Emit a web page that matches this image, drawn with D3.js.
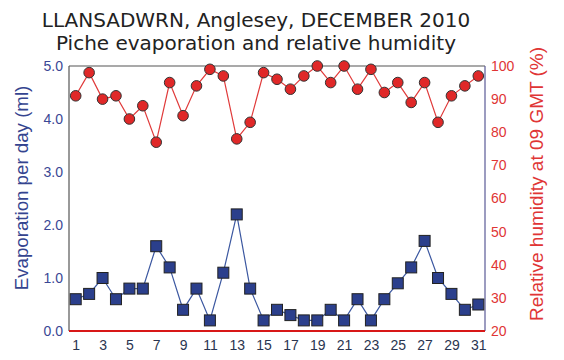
<!DOCTYPE html>
<html>
<head>
<meta charset="utf-8">
<script src="https://cdn.jsdelivr.net/npm/d3@7"></script>
<style>
  body { margin: 0; background: #fff; }
  svg { display: block; }
</style>
</head>
<body>
<svg width="564" height="360"></svg>
<script>

const days = d3.range(1, 32);
const evaporation = [0.6, 0.7, 1.0, 0.6, 0.8, 0.8, 1.6, 1.2, 0.4, 0.8, 0.2, 1.1, 2.2, 0.8, 0.2, 0.4,
    0.3, 0.2, 0.2, 0.4, 0.2, 0.6, 0.2, 0.6, 0.9, 1.2, 1.7, 1.0, 0.7, 0.4, 0.5];
const humidity = [91, 98, 90, 91, 84, 88, 77, 95, 85, 94, 99, 97, 78, 83, 98, 96,
    93, 97, 100, 95, 100, 93, 99, 92, 95, 89, 95, 83, 91, 94, 97];
const xTicks = [1, 3, 5, 7, 9, 11, 13, 15, 17, 19, 21, 23, 25, 27, 29, 31];
const leftTicks = [0, 1, 2, 3, 4, 5];
const rightTicks = [20, 30, 40, 50, 60, 70, 80, 90, 100];

const svg = d3.select('svg');

const plotL = 69, plotR = 485, plotT = 66, plotB = 331;

const x = d3.scaleLinear().domain([0.5, 31.5]).range([plotL, plotR]);
const yEvap = d3.scaleLinear().domain([0, 5]).range([plotB, plotT]);
const yHum = d3.scaleLinear().domain([20, 100]).range([plotB, plotT]);

// titles
svg.append('text')
    .attr('x', 256).attr('y', 27)
    .attr('text-anchor', 'middle')
    .attr('font-family', 'DejaVu Sans')
    .attr('font-size', 20)
    .attr('fill', '#222')
    .text('LLANSADWRN, Anglesey, DECEMBER 2010');
svg.append('text')
    .attr('x', 256).attr('y', 50)
    .attr('text-anchor', 'middle')
    .attr('font-family', 'DejaVu Sans')
    .attr('font-size', 20)
    .attr('fill', '#222')
    .text('Piche evaporation and relative humidity');

// frame
svg.append('line').attr('x1', plotL).attr('x2', plotR).attr('y1', plotT).attr('y2', plotT)
    .attr('stroke', '#555').attr('stroke-width', 1.2);
svg.append('line').attr('x1', plotL).attr('x2', plotL).attr('y1', plotT).attr('y2', plotB)
    .attr('stroke', '#555').attr('stroke-width', 1.2);
svg.append('line').attr('x1', plotR).attr('x2', plotR).attr('y1', plotT).attr('y2', plotB)
    .attr('stroke', '#5a5a96').attr('stroke-width', 1.2);

// axes (labels only, no ticks)
const axisLeft = svg.append('g')
    .attr('transform', `translate(${plotL},0)`)
    .call(d3.axisLeft(yEvap).tickValues(leftTicks).tickFormat(d3.format('.1f')).tickSize(0).tickPadding(6));
axisLeft.select('.domain').remove();
axisLeft.selectAll('text')
    .attr('font-family', 'Liberation Sans').attr('font-size', 14).attr('fill', '#3a4795');

const axisRight = svg.append('g')
    .attr('transform', `translate(${plotR},0)`)
    .call(d3.axisRight(yHum).tickValues(rightTicks).tickSize(0).tickPadding(6));
axisRight.select('.domain').remove();
axisRight.selectAll('text')
    .attr('font-family', 'Liberation Sans').attr('font-size', 14).attr('fill', '#e03535');

const axisBottom = svg.append('g')
    .attr('transform', `translate(0,${plotB})`)
    .call(d3.axisBottom(x).tickValues(xTicks).tickSize(0).tickPadding(9));
axisBottom.select('.domain').remove();
axisBottom.selectAll('text')
    .attr('font-family', 'Liberation Sans').attr('font-size', 14).attr('fill', '#2a3550');

// axis titles
svg.append('text')
    .attr('transform', `translate(28,188) rotate(-90)`)
    .attr('text-anchor', 'middle')
    .attr('font-family', 'Liberation Sans')
    .attr('font-size', 18.7)
    .attr('fill', '#34448f')
    .text('Evaporation per day (ml)');
svg.append('text')
    .attr('transform', `translate(543,184) rotate(-90)`)
    .attr('text-anchor', 'middle')
    .attr('font-family', 'Liberation Sans')
    .attr('font-size', 19)
    .attr('fill', '#e03535')
    .text('Relative humidity at 09 GMT (%)');

// humidity series
const humLine = d3.line()
    .x((d, i) => x(days[i]))
    .y(d => yHum(d));
svg.append('path')
    .datum(humidity)
    .attr('d', humLine)
    .attr('fill', 'none')
    .attr('stroke', '#e03a3a')
    .attr('stroke-width', 1.2);
svg.selectAll('circle.hum')
    .data(humidity)
    .enter()
    .append('circle')
        .attr('class', 'hum')
        .attr('cx', (d, i) => x(days[i]))
        .attr('cy', d => yHum(d))
        .attr('r', 5.3)
        .attr('fill', '#e02828')
        .attr('stroke', '#333')
        .attr('stroke-width', 1);

// evaporation series
const evapLine = d3.line()
    .x((d, i) => x(days[i]))
    .y(d => yEvap(d));
svg.append('path')
    .datum(evaporation)
    .attr('d', evapLine)
    .attr('fill', 'none')
    .attr('stroke', '#3b57a0')
    .attr('stroke-width', 1.2);
svg.selectAll('rect.evap')
    .data(evaporation)
    .enter()
    .append('rect')
        .attr('class', 'evap')
        .attr('x', (d, i) => x(days[i]) - 5.5)
        .attr('y', d => yEvap(d) - 5.5)
        .attr('width', 11)
        .attr('height', 11)
        .attr('fill', '#2b3f8c')
        .attr('stroke', '#222')
        .attr('stroke-width', 1);

// red baseline
svg.append('line').attr('x1', plotL).attr('x2', plotR).attr('y1', plotB).attr('y2', plotB)
    .attr('stroke', '#d81818').attr('stroke-width', 2);

</script>
</body>
</html>
